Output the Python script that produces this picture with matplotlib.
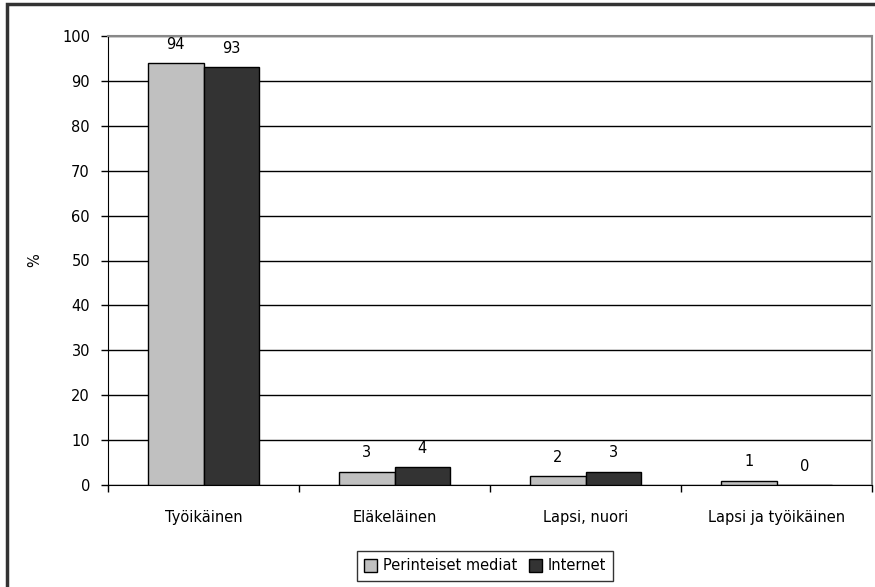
import numpy as np
import matplotlib
matplotlib.use("Agg")
from matplotlib import pyplot as plt
from matplotlib.patches import Rectangle

categories = ["Työikäinen", "Eläkeläinen", "Lapsi, nuori", "Lapsi ja työikäinen"]
perinteiset = [94, 3, 2, 1]
internet = [93, 4, 3, 0]
series_names = ["Perinteiset mediat", "Internet"]

plt.rcParams['font.family'] = ['DejaVu Sans']
fs = 10.5

W, H = 875, 587
fig = plt.figure(figsize=(W / 100, H / 100), dpi=100)
ax = fig.add_axes([108 / W, 1 - 485 / H, (872 - 108) / W, (485 - 36) / H])

# outer chart border (runs off the right/bottom of the picture)
fig.patches.append(Rectangle((7 / W, -0.05), 1.1, 1 - 4 / H + 0.05,
                             transform=fig.transFigure, fill=False,
                             edgecolor='#333333', linewidth=2.5))

x = np.arange(len(categories))
bw = 0.29
b1 = ax.bar(x - bw / 2, perinteiset, bw, color='#c0c0c0', edgecolor='black',
            linewidth=1, label=series_names[0], zorder=3)
b2 = ax.bar(x + bw / 2, internet, bw, color='#333333', edgecolor='black',
            linewidth=1, label=series_names[1], zorder=3)

for bars, vals in [(b1, perinteiset), (b2, internet)]:
    for r, v in zip(bars, vals):
        ax.text(r.get_x() + r.get_width() / 2, v + 2.5, str(v),
                ha='center', va='bottom', fontsize=fs)

ax.set_xlim(-0.5, len(categories) - 0.5)
ax.set_ylim(0, 100)
ax.set_yticks(np.arange(0, 101, 10))
ax.yaxis.grid(True, color='black', linewidth=1)
ax.set_axisbelow(True)

ax.set_xticks(x)
ax.set_xticklabels(categories, fontsize=fs)
ax.set_xticks(np.arange(-0.5, len(categories), 1), minor=True)
ax.tick_params(axis='x', which='major', length=0, pad=18)
ax.tick_params(axis='x', which='minor', length=5, width=1, direction='out')
ax.tick_params(axis='y', length=5, width=1, direction='out', labelsize=fs, pad=8)

for s in ['top', 'right']:
    ax.spines[s].set_color('#888888')
    ax.spines[s].set_linewidth(1.5)
ax.spines['left'].set_color('black')
ax.spines['bottom'].set_color('black')

ax.set_ylabel('%', fontsize=fs, labelpad=14)

leg = fig.legend(handles=[b1, b2], loc='center', bbox_to_anchor=(485 / W, 1 - 566 / H),
                 ncol=2, fontsize=fs, frameon=True, fancybox=False,
                 handlelength=0.9, handleheight=0.9, handletextpad=0.4,
                 columnspacing=0.8, borderpad=0.5, borderaxespad=0)
leg.get_frame().set_edgecolor('black')
leg.get_frame().set_linewidth(1)

fig.savefig("out.png", dpi=100)
